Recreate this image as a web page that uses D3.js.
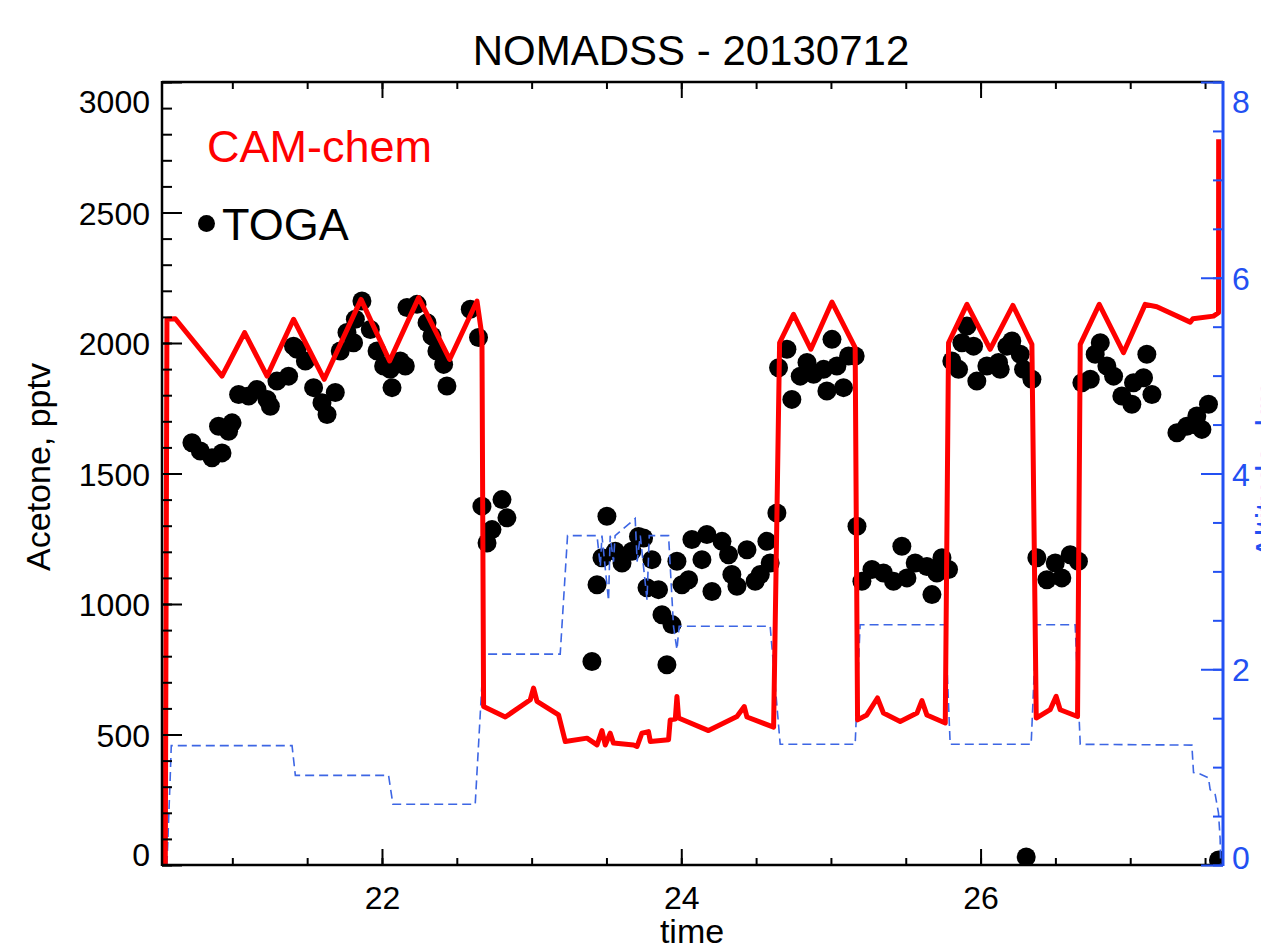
<!DOCTYPE html>
<html>
<head>
<meta charset="utf-8">
<script src="https://cdn.jsdelivr.net/npm/d3@7"></script>
<style>
  html, body { margin: 0; padding: 0; background: #fff; }
  svg { display: block; font-family: "Liberation Sans", Arial, Helvetica, sans-serif; }
</style>
</head>
<body>
<svg id="chart" width="1261" height="944"></svg>
<script>
// ---------------- DATA ----------------
const titleText = "NOMADSS - 20130712";
const xTicks = [22, 24, 26];
const yLeftTicks = [0, 500, 1000, 1500, 2000, 2500, 3000];
const yRightTicks = [0, 2, 4, 6, 8];

// CAM-chem model acetone (pptv) along flight track
const camTime = [20.552, 20.563, 20.619, 20.931, 21.082, 21.232, 21.409, 21.614, 21.860, 22.051, 22.245, 22.452, 22.635, 22.668,
  22.679, 22.824, 22.991, 23.013, 23.036, 23.180, 23.225, 23.370, 23.437, 23.470, 23.492, 23.525, 23.547, 23.681, 23.704,
  23.737, 23.781, 23.793, 23.915, 23.926, 23.960, 23.971, 23.982, 24.182, 24.372, 24.421, 24.439, 24.617,
  24.657, 24.750, 24.866, 25.007, 25.162,
  25.178, 25.240, 25.311, 25.351, 25.463, 25.575, 25.608, 25.641, 25.764,
  25.786, 25.909, 26.064, 26.216, 26.343,
  26.372, 26.465, 26.505, 26.532, 26.648,
  26.666, 26.793, 26.955, 27.100, 27.178, 27.401, 27.419, 27.556, 27.590, 27.591];
const camAcetone = [0, 2091, 2093, 1873, 2040, 1873, 2091, 1861, 2167, 1931, 2174, 1937, 2161, 2027,
  607, 567, 633, 678, 627, 575, 473, 486, 460, 515, 460, 505, 467, 460, 454,
  505, 511, 473, 480, 556, 559, 646, 563, 515, 569, 607, 567, 528,
  2001, 2110, 1976, 2157, 1982,
  556, 575, 640, 582, 550, 582, 630, 575, 544,
  2001, 2148, 1976, 2144, 1995,
  563, 595, 646, 595, 569,
  1995, 2148, 1963, 2148, 2139, 2080, 2093, 2103, 2116, 2781];

// TOGA measured acetone (pptv)
const togaTime = [20.730, 20.786, 20.864, 20.931, 20.908, 20.998, 20.975, 21.042, 21.109, 21.165, 21.232, 21.254, 21.298, 21.376,
  21.409, 21.432, 21.488, 21.543, 21.599, 21.633, 21.688, 21.721, 21.766, 21.810, 21.822, 21.866, 21.922, 21.967, 22.011,
  22.055, 22.067, 22.122, 22.156, 22.167, 22.234, 22.301, 22.334, 22.367, 22.412, 22.434, 22.590, 22.645,
  22.668, 22.802, 22.835, 22.735, 22.702,
  23.403, 23.437, 23.470, 23.503, 23.559, 23.604, 23.670, 23.714, 23.748, 23.804, 23.771, 23.848, 23.871, 23.938, 23.904,
  23.971, 24.004, 24.049, 24.071, 24.171, 24.138, 24.272, 24.205, 24.316, 24.338, 24.372, 24.439, 24.494, 24.572, 24.594,
  24.639, 24.528,
  24.650, 24.706, 24.739, 24.795, 24.840, 24.884, 24.951, 24.973, 25.007, 25.040, 25.084, 25.118, 25.162,
  25.174, 25.207, 25.274, 25.351, 25.418, 25.474, 25.508, 25.563, 25.641, 25.675, 25.708, 25.742, 25.786,
  25.808, 25.853, 25.875, 25.909, 25.953, 25.975, 26.042, 26.120, 26.176, 26.209, 26.265, 26.131, 26.287, 26.343,
  26.376, 26.443, 26.499, 26.543, 26.599, 26.654,
  26.305,
  26.677, 26.733, 26.800, 26.766, 26.844, 26.889, 26.944, 27.011, 27.022, 27.089, 27.145, 27.111,
  27.312, 27.378, 27.445, 27.479, 27.523, 27.423, 27.590];
const togaAcetone = [1618, 1586, 1560, 1579, 1681, 1694, 1662, 1803, 1797, 1822, 1784, 1758, 1854, 1873,
  1988, 1976, 1931, 1829, 1771, 1726, 1810, 1969, 2040, 2001, 2091, 2161, 2052, 1969, 1912,
  1899, 1829, 1931, 1912, 2136, 2148, 2078, 2027, 1969, 1918, 1835, 2129, 2021,
  1375, 1400, 1330, 1285, 1234,
  780, 1074, 1177, 1336, 1202, 1157, 1202, 1259, 1253, 1170, 1062, 1055, 959, 921, 767,
  1164, 1074, 1093, 1247, 1266, 1170, 1240, 1048, 1189, 1113, 1068, 1208, 1087, 1240, 1157,
  1349, 1113,
  1905, 1976, 1784, 1873, 1925, 1880, 1899, 1816, 2014, 1912, 1829, 1950, 1950,
  1298, 1087, 1132, 1119, 1087, 1221, 1100, 1157, 1144, 1036, 1119, 1177, 1132,
  1931, 1899, 2001, 2065, 1988, 1854, 1912, 1925, 1988, 2008, 1957, 1899, 1899, 1861,
  1177, 1093, 1157, 1100, 1189, 1164,
  31,
  1848, 1861, 2001, 1957, 1912, 1873, 1797, 1765, 1848, 1867, 1803, 1957,
  1656, 1681, 1720, 1669, 1765, 1688, 19];

// Aircraft altitude (km)
const altTime = [20.563, 20.585, 20.592, 21.399, 21.421, 22.044, 22.073, 22.623, 22.679, 23.191, 23.240, 23.437, 23.459, 23.470,
  23.514, 23.525, 23.547, 23.558, 23.692, 23.705, 23.726, 23.771, 23.786, 23.915, 23.948, 23.971, 23.986, 24.594, 24.661,
  25.162, 25.195, 25.764, 25.797, 26.338, 26.372, 26.632, 26.666, 27.412, 27.423, 27.467, 27.523, 27.534, 27.568, 27.590,
  27.601, 27.604];
const altKm = [0, 0.9, 1.22, 1.22, 0.916, 0.916, 0.62, 0.62, 2.155, 2.155, 3.365, 3.365, 3.05, 3.365,
  2.7, 3.365, 3.1, 3.365, 3.54, 3.1, 3.365, 2.71, 3.365, 3.365, 2.44, 2.2, 2.44, 2.44, 1.233,
  1.233, 2.455, 2.455, 1.233, 1.233, 2.455, 2.455, 1.233, 1.225, 0.944, 0.93, 0.89, 0.77, 0.72, 0.53,
  0.26, 0];

// ---------------- CHART ----------------
const svg = d3.select("#chart");
const L = 162, R = 1223, T = 82, B = 865;
const blueAxis = "#2350f2";
const blueLine = "#3d66e4";

const x = d3.scaleLinear().domain([20.53, 27.62]).range([L, R]);
const yL = d3.scaleLinear().domain([0, 3000]).range([B, T]);
const yR = d3.scaleLinear().domain([0, 8]).range([B, T]);

svg.append("defs").append("clipPath").attr("id", "plotclip")
  .append("rect").attr("x", L).attr("y", T).attr("width", R - L).attr("height", B - T);

const plot = svg.append("g").attr("clip-path", "url(#plotclip)");

// TOGA dots
plot.append("g").selectAll("circle")
  .data(togaTime.map((t, i) => [t, togaAcetone[i]]))
  .join("circle")
  .attr("cx", d => x(d[0])).attr("cy", d => yL(d[1])).attr("r", 9.5)
  .attr("fill", "#000");

// altitude dashed line
plot.append("path")
  .datum(altTime.map((t, i) => [t, altKm[i]]))
  .attr("fill", "none").attr("stroke", blueLine).attr("stroke-width", 1.6)
  .attr("stroke-dasharray", "9,5")
  .attr("d", d3.line().x(d => x(d[0])).y(d => yR(d[1])));

// CAM-chem line
plot.append("path")
  .datum(camTime.map((t, i) => [t, camAcetone[i]]))
  .attr("fill", "none").attr("stroke", "#ff0000").attr("stroke-width", 5)
  .attr("stroke-linejoin", "round")
  .attr("d", d3.line().x(d => x(d[0])).y(d => yL(d[1])));

// ---------------- AXES ----------------
function range(a, b, s) { const r = []; for (let v = a; v <= b + 1e-9; v += s) r.push(+v.toFixed(4)); return r; }
function styleAxis(g, color) {
  g.select(".domain").remove();
  g.selectAll("line").attr("stroke", color).attr("stroke-width", 2);
  g.selectAll("text").attr("fill", color).style("font-size", "32px");
}

// left axis
const gLminor = svg.append("g").attr("transform", `translate(${L},0)`)
  .call(d3.axisLeft(yL).tickValues(range(0, 3000, 100)).tickSize(-10).tickFormat(""));
styleAxis(gLminor, "#000");
const gL = svg.append("g").attr("transform", `translate(${L},0)`)
  .call(d3.axisLeft(yL).tickValues(yLeftTicks).tickSize(-20).tickPadding(12).tickFormat(d3.format("d")));
styleAxis(gL, "#000");
gL.selectAll("text").attr("dy", (d) => d === 3000 ? "0.95em" : d === 0 ? "0.0em" : "0.36em");

// bottom axis
const gBminor = svg.append("g").attr("transform", `translate(0,${B})`)
  .call(d3.axisBottom(x).tickValues(range(20.5, 27.5, 0.5).filter(v => v >= 20.53)).tickSize(-7).tickFormat(""));
styleAxis(gBminor, "#000");
const gB = svg.append("g").attr("transform", `translate(0,${B})`)
  .call(d3.axisBottom(x).tickValues(xTicks).tickSize(-16).tickPadding(21).tickFormat(d3.format("d")));
styleAxis(gB, "#000");

// top axis
const gTminor = svg.append("g").attr("transform", `translate(0,${T})`)
  .call(d3.axisTop(x).tickValues(range(20.5, 27.5, 0.5).filter(v => v >= 20.53)).tickSize(-7).tickFormat(""));
styleAxis(gTminor, "#000");
const gT = svg.append("g").attr("transform", `translate(0,${T})`)
  .call(d3.axisTop(x).tickValues(xTicks).tickSize(-16).tickFormat(""));
styleAxis(gT, "#000");

// frame lines
svg.append("line").attr("x1", L).attr("x2", L).attr("y1", T - 1).attr("y2", B + 1).attr("stroke", "#000").attr("stroke-width", 2.5);
svg.append("line").attr("x1", L).attr("x2", R).attr("y1", T).attr("y2", T).attr("stroke", "#000").attr("stroke-width", 2.5);
svg.append("line").attr("x1", L).attr("x2", R).attr("y1", B).attr("y2", B).attr("stroke", "#000").attr("stroke-width", 2.5);

// right axis
const gRminor = svg.append("g").attr("transform", `translate(${R},0)`)
  .call(d3.axisRight(yR).tickValues(range(0, 8, 0.5)).tickSize(-10).tickFormat(""));
styleAxis(gRminor, blueAxis);
const gR = svg.append("g").attr("transform", `translate(${R},0)`)
  .call(d3.axisRight(yR).tickValues(yRightTicks).tickSize(-22).tickPadding(9).tickFormat(d3.format("d")));
styleAxis(gR, blueAxis);
gR.selectAll("text").attr("dy", (d) => d === 8 ? "0.95em" : d === 0 ? "0.1em" : "0.36em");
svg.append("line").attr("x1", R).attr("x2", R).attr("y1", T - 1).attr("y2", B + 1).attr("stroke", blueAxis).attr("stroke-width", 3);

// ---------------- TEXT ----------------
svg.append("text").attr("x", 691).attr("y", 65).attr("text-anchor", "middle")
  .style("font-size", "42px").attr("fill", "#000").text(titleText);

svg.append("text").attr("x", 692).attr("y", 943).attr("text-anchor", "middle")
  .style("font-size", "34px").attr("fill", "#000").text("time");

svg.append("text").attr("transform", "translate(50,467) rotate(-90)").attr("text-anchor", "middle")
  .style("font-size", "34px").attr("fill", "#000").text("Acetone, pptv");

svg.append("text").attr("transform", "translate(1279,470) rotate(-90)").attr("text-anchor", "middle")
  .style("font-size", "34px").attr("fill", blueAxis).text("Altitude, km");

// legend
svg.append("text").attr("x", 207).attr("y", 162)
  .style("font-size", "45px").attr("fill", "#ff0000").text("CAM-chem");
svg.append("circle").attr("cx", 206.5).attr("cy", 223.5).attr("r", 8.5).attr("fill", "#000");
svg.append("text").attr("x", 222).attr("y", 240)
  .style("font-size", "45px").attr("fill", "#000").text("TOGA");
</script>
</body>
</html>
